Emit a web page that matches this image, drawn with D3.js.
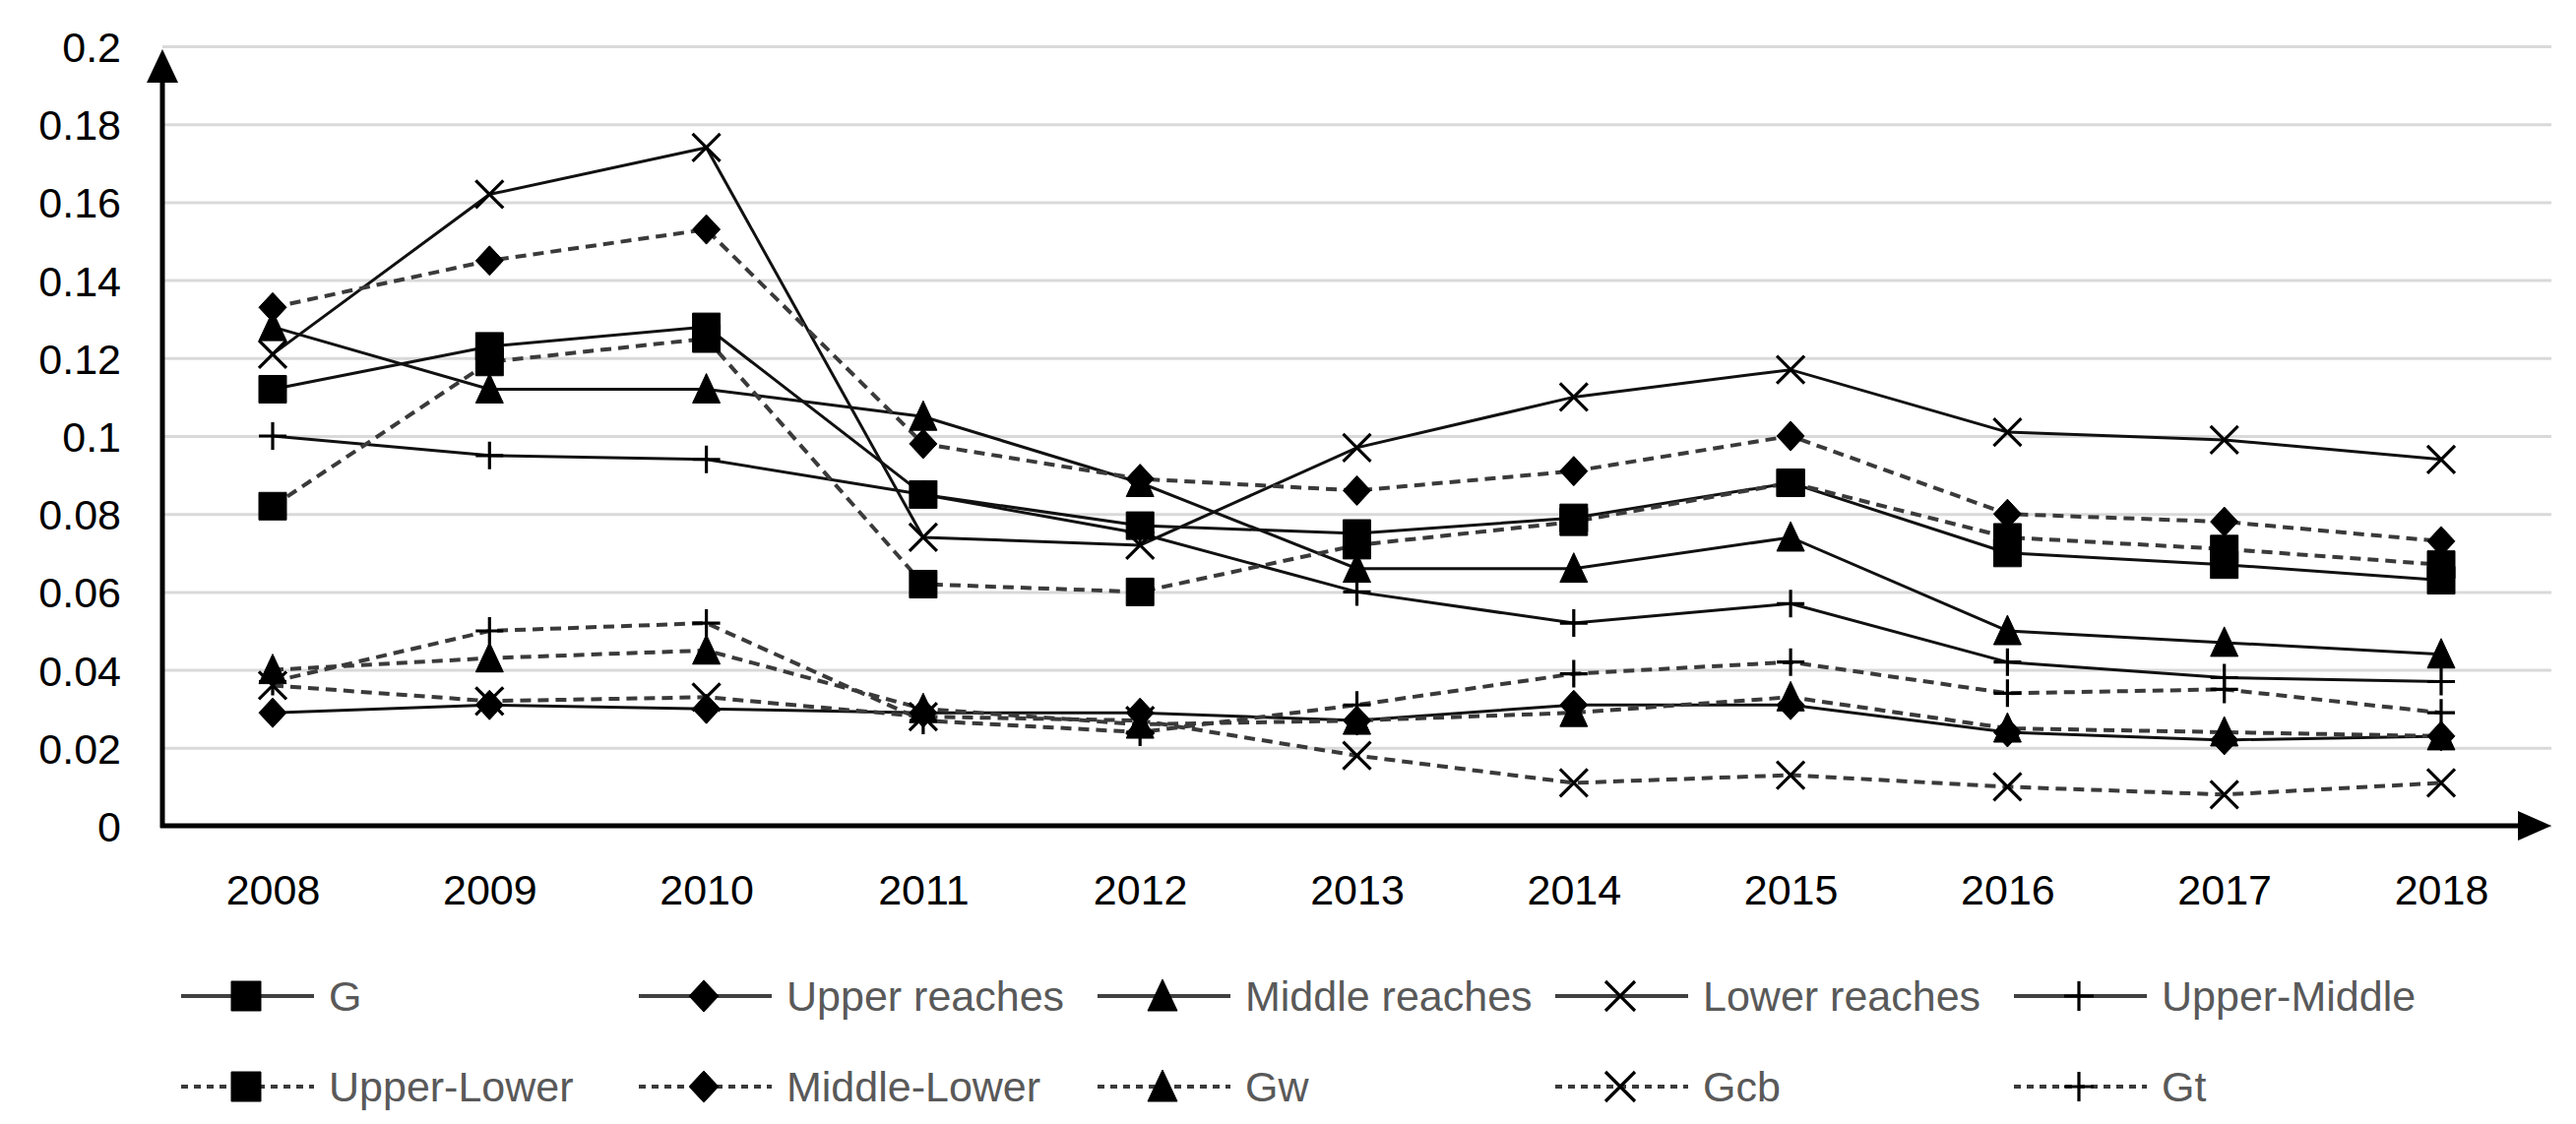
<!DOCTYPE html>
<html>
<head>
<meta charset="utf-8">
<script src="https://cdn.jsdelivr.net/npm/d3@7/dist/d3.min.js"></script>
<style>
  html, body { margin: 0; padding: 0; background: #fff; }
  svg { display: block; }
  text { font-family: "Liberation Sans", Arial, sans-serif; }
</style>
</head>
<body>
<svg id="chart" width="2617" height="1142"></svg>
<script>
// ---- data ----
const years = ["2008","2009","2010","2011","2012","2013","2014","2015","2016","2017","2018"];
const yTicks = [0, 0.02, 0.04, 0.06, 0.08, 0.1, 0.12, 0.14, 0.16, 0.18, 0.2];

const G            = [0.112, 0.123, 0.128, 0.085, 0.077, 0.075, 0.079, 0.088, 0.070, 0.067, 0.063];
const upperReaches = [0.029, 0.031, 0.030, 0.029, 0.029, 0.027, 0.031, 0.031, 0.024, 0.022, 0.023];
const middleReaches= [0.128, 0.112, 0.112, 0.105, 0.088, 0.066, 0.066, 0.074, 0.050, 0.047, 0.044];
const lowerReaches = [0.121, 0.162, 0.174, 0.074, 0.072, 0.097, 0.110, 0.117, 0.101, 0.099, 0.094];
const upperMiddle  = [0.100, 0.095, 0.094, 0.085, 0.075, 0.060, 0.052, 0.057, 0.042, 0.038, 0.037];
const upperLower   = [0.082, 0.119, 0.125, 0.062, 0.060, 0.072, 0.078, 0.088, 0.074, 0.071, 0.067];
const middleLower  = [0.133, 0.145, 0.153, 0.098, 0.089, 0.086, 0.091, 0.100, 0.080, 0.078, 0.073];
const Gw           = [0.040, 0.043, 0.045, 0.030, 0.026, 0.027, 0.029, 0.033, 0.025, 0.024, 0.023];
const Gcb          = [0.036, 0.032, 0.033, 0.028, 0.027, 0.018, 0.011, 0.013, 0.010, 0.008, 0.011];
const Gt           = [0.037, 0.050, 0.052, 0.027, 0.024, 0.031, 0.039, 0.042, 0.034, 0.035, 0.029];

const seriesNames  = ["G","Upper reaches","Middle reaches","Lower reaches","Upper-Middle",
                      "Upper-Lower","Middle-Lower","Gw","Gcb","Gt"];
const seriesValues = [G, upperReaches, middleReaches, lowerReaches, upperMiddle,
                      upperLower, middleLower, Gw, Gcb, Gt];
const seriesMarker = ["square","diamond","triangle","x","plus","square","diamond","triangle","x","plus"];
const seriesDashed = [false,false,false,false,false,true,true,true,true,true];

// ---- layout ----
const svg = d3.select("#chart");
svg.append("rect").attr("width",2617).attr("height",1142).attr("fill","#fff");

const axisX = 165, axisRight = 2592;
const x = d3.scalePoint().domain(years).range([277, 2480]);
const y = d3.scaleLinear().domain([0, 0.2]).range([839, 47]);

// gridlines
const grid = svg.append("g").attr("transform", `translate(${axisX},0)`)
  .call(d3.axisLeft(y).tickValues(yTicks).tickSize(-(axisRight - axisX)).tickFormat(""));
grid.select(".domain").remove();
grid.selectAll(".tick line").attr("stroke","#d9d9d9").attr("stroke-width",3);

// y tick labels
const yAx = svg.append("g").attr("transform", `translate(123,0)`)
  .call(d3.axisLeft(y).tickValues(yTicks).tickSize(0).tickPadding(0).tickFormat(d => d3.format("~g")(d)));
yAx.select(".domain").remove();
yAx.selectAll("text").attr("font-size",43).attr("fill","#000")
   .attr("font-family","'Liberation Sans', Arial, sans-serif").attr("dy","0.36em");

// x tick labels
const xAx = svg.append("g").attr("transform", `translate(0,888)`)
  .call(d3.axisBottom(x).tickSize(0).tickPadding(0));
xAx.select(".domain").remove();
xAx.selectAll("text").attr("font-size",43).attr("fill","#000")
   .attr("font-family","'Liberation Sans', Arial, sans-serif").attr("dy","0.71em");

// axes with arrows
svg.append("line").attr("x1",axisX).attr("x2",axisX).attr("y1",y(0)+2).attr("y2",80)
  .attr("stroke","#000").attr("stroke-width",5);
svg.append("path").attr("d",`M${axisX-16},84 L${axisX},50 L${axisX+16},84 Z`).attr("fill","#000");
svg.append("line").attr("x1",axisX-2).attr("x2",axisRight-30).attr("y1",y(0)).attr("y2",y(0))
  .attr("stroke","#000").attr("stroke-width",5);
svg.append("path").attr("d",`M${axisRight-34},${y(0)-15} L${axisRight},${y(0)} L${axisRight-34},${y(0)+15} Z`).attr("fill","#000");

// marker path generator
function markerPath(type, cx, cy, s) {
  const p = d3.path();
  const h = s / 2;
  if (type === "square") {
    p.rect(cx - h, cy - h, s, s);
  } else if (type === "diamond") {
    p.moveTo(cx, cy - h - 1); p.lineTo(cx + h, cy); p.lineTo(cx, cy + h + 1); p.lineTo(cx - h, cy); p.closePath();
  } else if (type === "triangle") {
    p.moveTo(cx, cy - h - 2); p.lineTo(cx + h, cy + h); p.lineTo(cx - h, cy + h); p.closePath();
  } else if (type === "x") {
    p.moveTo(cx - h, cy - h); p.lineTo(cx + h, cy + h); p.moveTo(cx + h, cy - h); p.lineTo(cx - h, cy + h);
  } else if (type === "plus") {
    p.moveTo(cx - h, cy); p.lineTo(cx + h, cy); p.moveTo(cx, cy - h); p.lineTo(cx, cy + h);
  }
  return p.toString();
}
function drawMarker(g, type, cx, cy, s) {
  const filled = (type === "square" || type === "diamond" || type === "triangle");
  g.append("path").attr("d", markerPath(type, cx, cy, s))
    .attr("fill", filled ? "#000" : "none")
    .attr("stroke", "#000").attr("stroke-width", filled ? 1 : 3.2)
    .attr("stroke-linejoin","round");
}

const line = d3.line().x((d, i) => x(years[i])).y(d => y(d));

// series lines
const plot = svg.append("g");
seriesValues.forEach((vals, k) => {
  plot.append("path").attr("d", line(vals)).attr("fill","none")
    .attr("stroke", seriesDashed[k] ? "#3a3a3a" : "#111")
    .attr("stroke-width", seriesDashed[k] ? 4 : 3)
    .attr("stroke-dasharray", seriesDashed[k] ? "11,7" : null);
});
// markers
seriesValues.forEach((vals, k) => {
  const g = plot.append("g");
  vals.forEach((v, i) => drawMarker(g, seriesMarker[k], x(years[i]), y(v), 28));
});

// legend
const legCols = [184, 649, 1115, 1580, 2046];
const legRows = [1012, 1104];
seriesNames.forEach((name, k) => {
  const lx = legCols[k % 5], ly = legRows[Math.floor(k / 5)];
  const g = svg.append("g");
  g.append("line").attr("x1", lx).attr("x2", lx + 135).attr("y1", ly).attr("y2", ly)
    .attr("stroke", seriesDashed[k] ? "#3a3a3a" : "#404040")
    .attr("stroke-width", seriesDashed[k] ? 4 : 4)
    .attr("stroke-dasharray", seriesDashed[k] ? "7,6" : null);
  drawMarker(g, seriesMarker[k], lx + 66, ly, 30);
  g.append("text").attr("x", lx + 150).attr("y", ly).attr("dy","0.36em")
    .attr("font-size", 43).attr("fill", "#595959").text(name);
});
</script>
</body>
</html>
